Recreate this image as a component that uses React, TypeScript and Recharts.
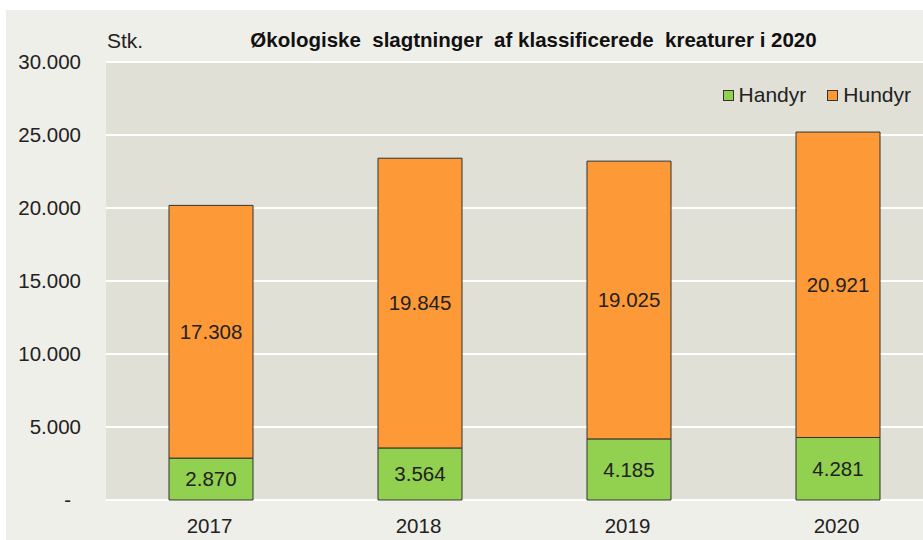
import { Bar, BarChart, CartesianGrid, LabelList, XAxis, YAxis } from "recharts";

const years = ["2017", "2018", "2019", "2020"];
const handyr = [2870, 3564, 4185, 4281];
const hundyr = [17308, 19845, 19025, 20921];
const yTicks = [0, 5000, 10000, 15000, 20000, 25000, 30000];

const FONT = "'Liberation Sans', Arial, sans-serif";
const FS = 20.5;

const chartData = years.map((year, i) => ({
  year,
  handyr: handyr[i],
  hundyr: hundyr[i],
}));

function formatDk(value: number): string {
  return String(value).replace(/\B(?=(\d{3})+(?!\d))/g, ".");
}

function YTick({ y, payload }: any) {
  const v = payload.value as number;
  if (v === 0) {
    return (
      <text x={71} y={y} dy={7} textAnchor="end" fontSize={FS} fill="#222" fontFamily={FONT}>
        -
      </text>
    );
  }
  return (
    <text x={81} y={y} dy={7} textAnchor="end" fontSize={FS} fill="#222" fontFamily={FONT}>
      {formatDk(v)}
    </text>
  );
}

function XTick({ x, payload }: any) {
  return (
    <text x={x - 1} y={533} textAnchor="middle" fontSize={FS} fill="#222" fontFamily={FONT}>
      {payload.value}
    </text>
  );
}

function LegendSwatch({ color, label, gap }: { color: string; label: string; gap: number }) {
  return (
    <div style={{ display: "flex", alignItems: "center", marginLeft: gap }}>
      <div
        style={{
          width: 9,
          height: 9,
          background: color,
          border: "1px solid #333",
          marginRight: 5,
        }}
      />
      <span>{label}</span>
    </div>
  );
}

export default function App() {
  return (
    <div
      style={{
        position: "absolute",
        left: 0,
        top: 0,
        width: 923,
        height: 540,
        overflow: "hidden",
        background: "#ffffff",
        fontFamily: FONT,
      }}
    >
      <div
        style={{
          position: "absolute",
          left: 6,
          top: 10,
          width: 917,
          height: 530,
          background: "#efefe9",
        }}
      />
      <div style={{ position: "absolute", left: 0, top: 0 }}>
        <BarChart
          width={950}
          height={540}
          data={chartData}
          margin={{ top: 62, right: 8, bottom: 0, left: 0 }}
          barSize={84}
          accessibilityLayer={false}
        >
          <CartesianGrid vertical={false} stroke="#ffffff" strokeWidth={2} fill="#e0e0d6" />
          <XAxis dataKey="year" height={40} axisLine={false} tickLine={false} tick={<XTick />} />
          <YAxis
            width={106}
            domain={[0, 30000]}
            ticks={yTicks}
            axisLine={false}
            tickLine={false}
            tick={<YTick />}
            interval={0}
          />
          <Bar dataKey="handyr" stackId="a" fill="#92d050" stroke="#333" strokeWidth={1} isAnimationActive={false}>
            <LabelList
              dataKey="handyr"
              position="center"
              formatter={(v: any) => formatDk(Number(v))}
              fill="#222"
              fontSize={FS}
              fontFamily={FONT}
            />
          </Bar>
          <Bar dataKey="hundyr" stackId="a" fill="#fd9a37" stroke="#333" strokeWidth={1} isAnimationActive={false}>
            <LabelList
              dataKey="hundyr"
              position="center"
              formatter={(v: any) => formatDk(Number(v))}
              fill="#222"
              fontSize={FS}
              fontFamily={FONT}
            />
          </Bar>
        </BarChart>
      </div>
      <div style={{ position: "absolute", left: 107, top: 29, fontSize: 21, color: "#222" }}>Stk.</div>
      <div
        style={{
          position: "absolute",
          left: 200,
          width: 667,
          top: 28,
          textAlign: "center",
          fontSize: 20.5,
          fontWeight: "bold",
          color: "#111",
          whiteSpace: "pre",
        }}
      >
        {"Økologiske  slagtninger  af klassificerede  kreaturer i 2020"}
      </div>
      <div
        style={{
          position: "absolute",
          right: 12,
          top: 83,
          display: "flex",
          fontSize: 21,
          color: "#222",
        }}
      >
        <LegendSwatch color="#92d050" label="Handyr" gap={0} />
        <LegendSwatch color="#fd9a37" label="Hundyr" gap={21} />
      </div>
    </div>
  );
}
